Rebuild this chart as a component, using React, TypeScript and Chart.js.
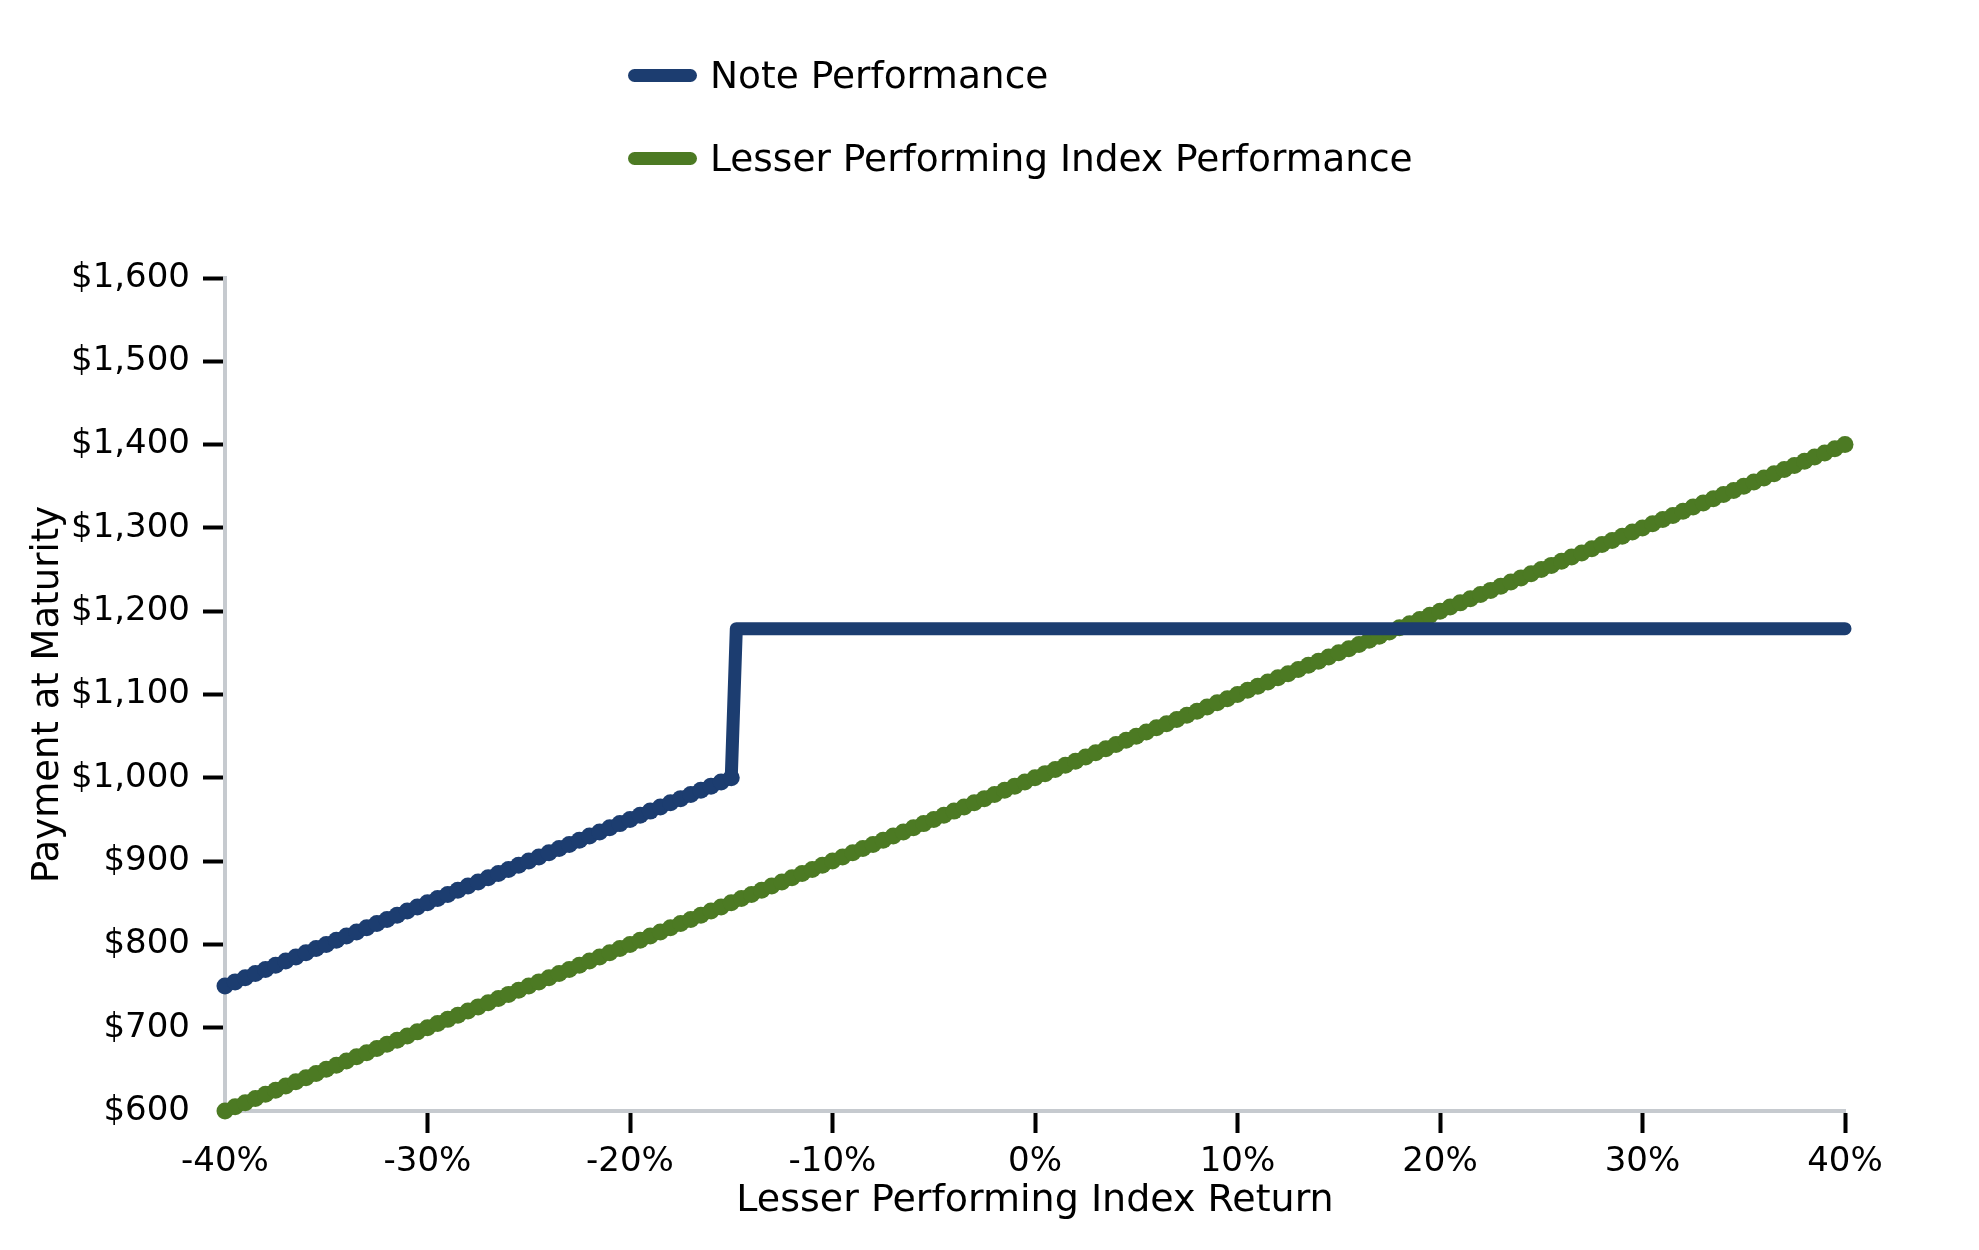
import React, { useEffect, useRef } from 'react';
import { Chart, registerables } from 'chart.js';

Chart.register(...registerables);

// Lesser performing index return (%), every 0.5%
const indexReturns = [
  -40, -39.5, -39, -38.5, -38, -37.5, -37, -36.5, -36, -35.5,
  -35, -34.5, -34, -33.5, -33, -32.5, -32, -31.5, -31, -30.5,
  -30, -29.5, -29, -28.5, -28, -27.5, -27, -26.5, -26, -25.5,
  -25, -24.5, -24, -23.5, -23, -22.5, -22, -21.5, -21, -20.5,
  -20, -19.5, -19, -18.5, -18, -17.5, -17, -16.5, -16, -15.5,
  -15, -14.5, -14, -13.5, -13, -12.5, -12, -11.5, -11, -10.5,
  -10, -9.5, -9, -8.5, -8, -7.5, -7, -6.5, -6, -5.5,
  -5, -4.5, -4, -3.5, -3, -2.5, -2, -1.5, -1, -0.5,
  0, 0.5, 1, 1.5, 2, 2.5, 3, 3.5, 4, 4.5,
  5, 5.5, 6, 6.5, 7, 7.5, 8, 8.5, 9, 9.5,
  10, 10.5, 11, 11.5, 12, 12.5, 13, 13.5, 14, 14.5,
  15, 15.5, 16, 16.5, 17, 17.5, 18, 18.5, 19, 19.5,
  20, 20.5, 21, 21.5, 22, 22.5, 23, 23.5, 24, 24.5,
  25, 25.5, 26, 26.5, 27, 27.5, 28, 28.5, 29, 29.5,
  30, 30.5, 31, 31.5, 32, 32.5, 33, 33.5, 34, 34.5,
  35, 35.5, 36, 36.5, 37, 37.5, 38, 38.5, 39, 39.5,
  40,
];

// Lesser performing index performance ($)
const indexPayments = [
  600, 605, 610, 615, 620, 625, 630, 635, 640, 645,
  650, 655, 660, 665, 670, 675, 680, 685, 690, 695,
  700, 705, 710, 715, 720, 725, 730, 735, 740, 745,
  750, 755, 760, 765, 770, 775, 780, 785, 790, 795,
  800, 805, 810, 815, 820, 825, 830, 835, 840, 845,
  850, 855, 860, 865, 870, 875, 880, 885, 890, 895,
  900, 905, 910, 915, 920, 925, 930, 935, 940, 945,
  950, 955, 960, 965, 970, 975, 980, 985, 990, 995,
  1000, 1005, 1010, 1015, 1020, 1025, 1030, 1035, 1040, 1045,
  1050, 1055, 1060, 1065, 1070, 1075, 1080, 1085, 1090, 1095,
  1100, 1105, 1110, 1115, 1120, 1125, 1130, 1135, 1140, 1145,
  1150, 1155, 1160, 1165, 1170, 1175, 1180, 1185, 1190, 1195,
  1200, 1205, 1210, 1215, 1220, 1225, 1230, 1235, 1240, 1245,
  1250, 1255, 1260, 1265, 1270, 1275, 1280, 1285, 1290, 1295,
  1300, 1305, 1310, 1315, 1320, 1325, 1330, 1335, 1340, 1345,
  1350, 1355, 1360, 1365, 1370, 1375, 1380, 1385, 1390, 1395,
  1400,
];

// Note performance: buffered ramp up to -15%, then flat payment
const noteReturns = [
  -40, -39.5, -39, -38.5, -38, -37.5, -37, -36.5, -36, -35.5,
  -35, -34.5, -34, -33.5, -33, -32.5, -32, -31.5, -31, -30.5,
  -30, -29.5, -29, -28.5, -28, -27.5, -27, -26.5, -26, -25.5,
  -25, -24.5, -24, -23.5, -23, -22.5, -22, -21.5, -21, -20.5,
  -20, -19.5, -19, -18.5, -18, -17.5, -17, -16.5, -16, -15.5,
  -15, -14.75, 40,
];

const notePayments = [
  750, 755, 760, 765, 770, 775, 780, 785, 790, 795,
  800, 805, 810, 815, 820, 825, 830, 835, 840, 845,
  850, 855, 860, 865, 870, 875, 880, 885, 890, 895,
  900, 905, 910, 915, 920, 925, 930, 935, 940, 945,
  950, 955, 960, 965, 970, 975, 980, 985, 990, 995,
  1000, 1179, 1179,
];

const xTicks = [-40, -30, -20, -10, 0, 10, 20, 30, 40];
const yTicks = [600, 700, 800, 900, 1000, 1100, 1200, 1300, 1400, 1500, 1600];

const NAVY = '#1c3d70';
const GREEN = '#4c7a23';
const AXIS_GREY = '#c6cacf';
const FONT = "'DejaVu Sans', sans-serif";

const series = [
  { label: 'Note Performance', color: NAVY },
  { label: 'Lesser Performing Index Performance', color: GREEN },
];

const PayoffChart: React.FC = () => {
  const canvasRef = useRef<HTMLCanvasElement | null>(null);
  const chartRef = useRef<Chart | null>(null);

  useEffect(() => {
    document.body.style.margin = '0';
    document.body.style.overflow = 'hidden';
    if (!canvasRef.current) return;
    const ctx = canvasRef.current.getContext('2d');
    if (!ctx) return;

    chartRef.current = new Chart(ctx, {
      type: 'line',
      data: {
        datasets: [
          {
            label: series[0].label,
            data: noteReturns.map((x, i) => ({ x, y: notePayments[i] })),
            borderColor: NAVY,
            backgroundColor: NAVY,
            borderWidth: 13,
            borderCapStyle: 'round',
            borderJoinStyle: 'round',
            // markers only where the ramp is sampled; the flat part is a plain line
            pointRadius: (c: any) => (c.dataIndex < 51 ? 8.5 : 0),
            pointBorderWidth: 0,
            pointBackgroundColor: NAVY,
            tension: 0,
            clip: false as any,
          },
          {
            label: series[1].label,
            data: indexReturns.map((x, i) => ({ x, y: indexPayments[i] })),
            borderColor: GREEN,
            backgroundColor: GREEN,
            borderWidth: 13,
            borderCapStyle: 'round',
            borderJoinStyle: 'round',
            pointRadius: 8.5,
            pointBorderWidth: 0,
            pointBackgroundColor: GREEN,
            tension: 0,
            clip: false as any,
          },
        ],
      },
      options: {
        animation: false,
        responsive: false,
        devicePixelRatio: 1,
        layout: { padding: { left: 0, right: 134, top: 278, bottom: 0 } },
        plugins: {
          legend: { display: false },
          tooltip: { enabled: false },
        },
        scales: {
          x: {
            type: 'linear',
            min: -40,
            max: 40,
            afterBuildTicks: (s: any) => {
              s.ticks = xTicks.map(v => ({ value: v }));
            },
            afterFit: (s: any) => {
              s.height = 139;
            },
            ticks: {
              color: '#000',
              padding: 9,
              font: { family: FONT, size: 34 },
              callback: (v: any) => `${v}%`,
            },
            grid: {
              display: true,
              drawOnChartArea: false,
              drawTicks: true,
              tickLength: 22,
              tickWidth: 4,
              tickColor: (c: any) => (c.index === 0 ? 'rgba(0,0,0,0)' : '#000'),
            },
            border: { display: true, color: AXIS_GREY, width: 4 },
            title: {
              display: true,
              text: 'Lesser Performing Index Return',
              color: '#000',
              font: { family: FONT, size: 38 },
              padding: 26,
            },
          },
          y: {
            type: 'linear',
            min: 600,
            max: 1600,
            afterBuildTicks: (s: any) => {
              s.ticks = yTicks.map(v => ({ value: v }));
            },
            afterFit: (s: any) => {
              s.width = 225;
            },
            ticks: {
              color: '#000',
              padding: 13,
              font: { family: FONT, size: 34 },
              callback: (v: any) => '$' + Number(v).toLocaleString('en-US'),
            },
            grid: {
              display: true,
              drawOnChartArea: false,
              drawTicks: true,
              tickLength: 22,
              tickWidth: 4,
              tickColor: (c: any) => (c.index === 0 ? 'rgba(0,0,0,0)' : '#000'),
            },
            border: { display: true, color: AXIS_GREY, width: 4 },
            title: {
              display: true,
              text: 'Payment at Maturity',
              color: '#000',
              font: { family: FONT, size: 37 },
              padding: 26,
            },
          },
        },
      },
    });

    return () => {
      if (chartRef.current) {
        chartRef.current.destroy();
        chartRef.current = null;
      }
    };
  }, []);

  return (
    <div style={{ position: 'relative', width: 1979, height: 1250, background: '#fff' }}>
      <canvas ref={canvasRef} width={1979} height={1250} style={{ display: 'block' }}></canvas>
      {series.map((s, i) => (
        <div
          key={s.label}
          style={{
            position: 'absolute',
            left: 628,
            top: 53 + i * 83,
            height: 44,
            display: 'flex',
            alignItems: 'center',
            fontFamily: FONT,
            fontSize: 37.5,
            color: '#000',
            whiteSpace: 'nowrap',
          }}
        >
          <span
            style={{
              display: 'inline-block',
              width: 69,
              height: 13,
              borderRadius: 7,
              background: s.color,
              marginRight: 13,
            }}
          ></span>
          <span>{s.label}</span>
        </div>
      ))}
    </div>
  );
};

export default function App() {
  return <PayoffChart />;
}
